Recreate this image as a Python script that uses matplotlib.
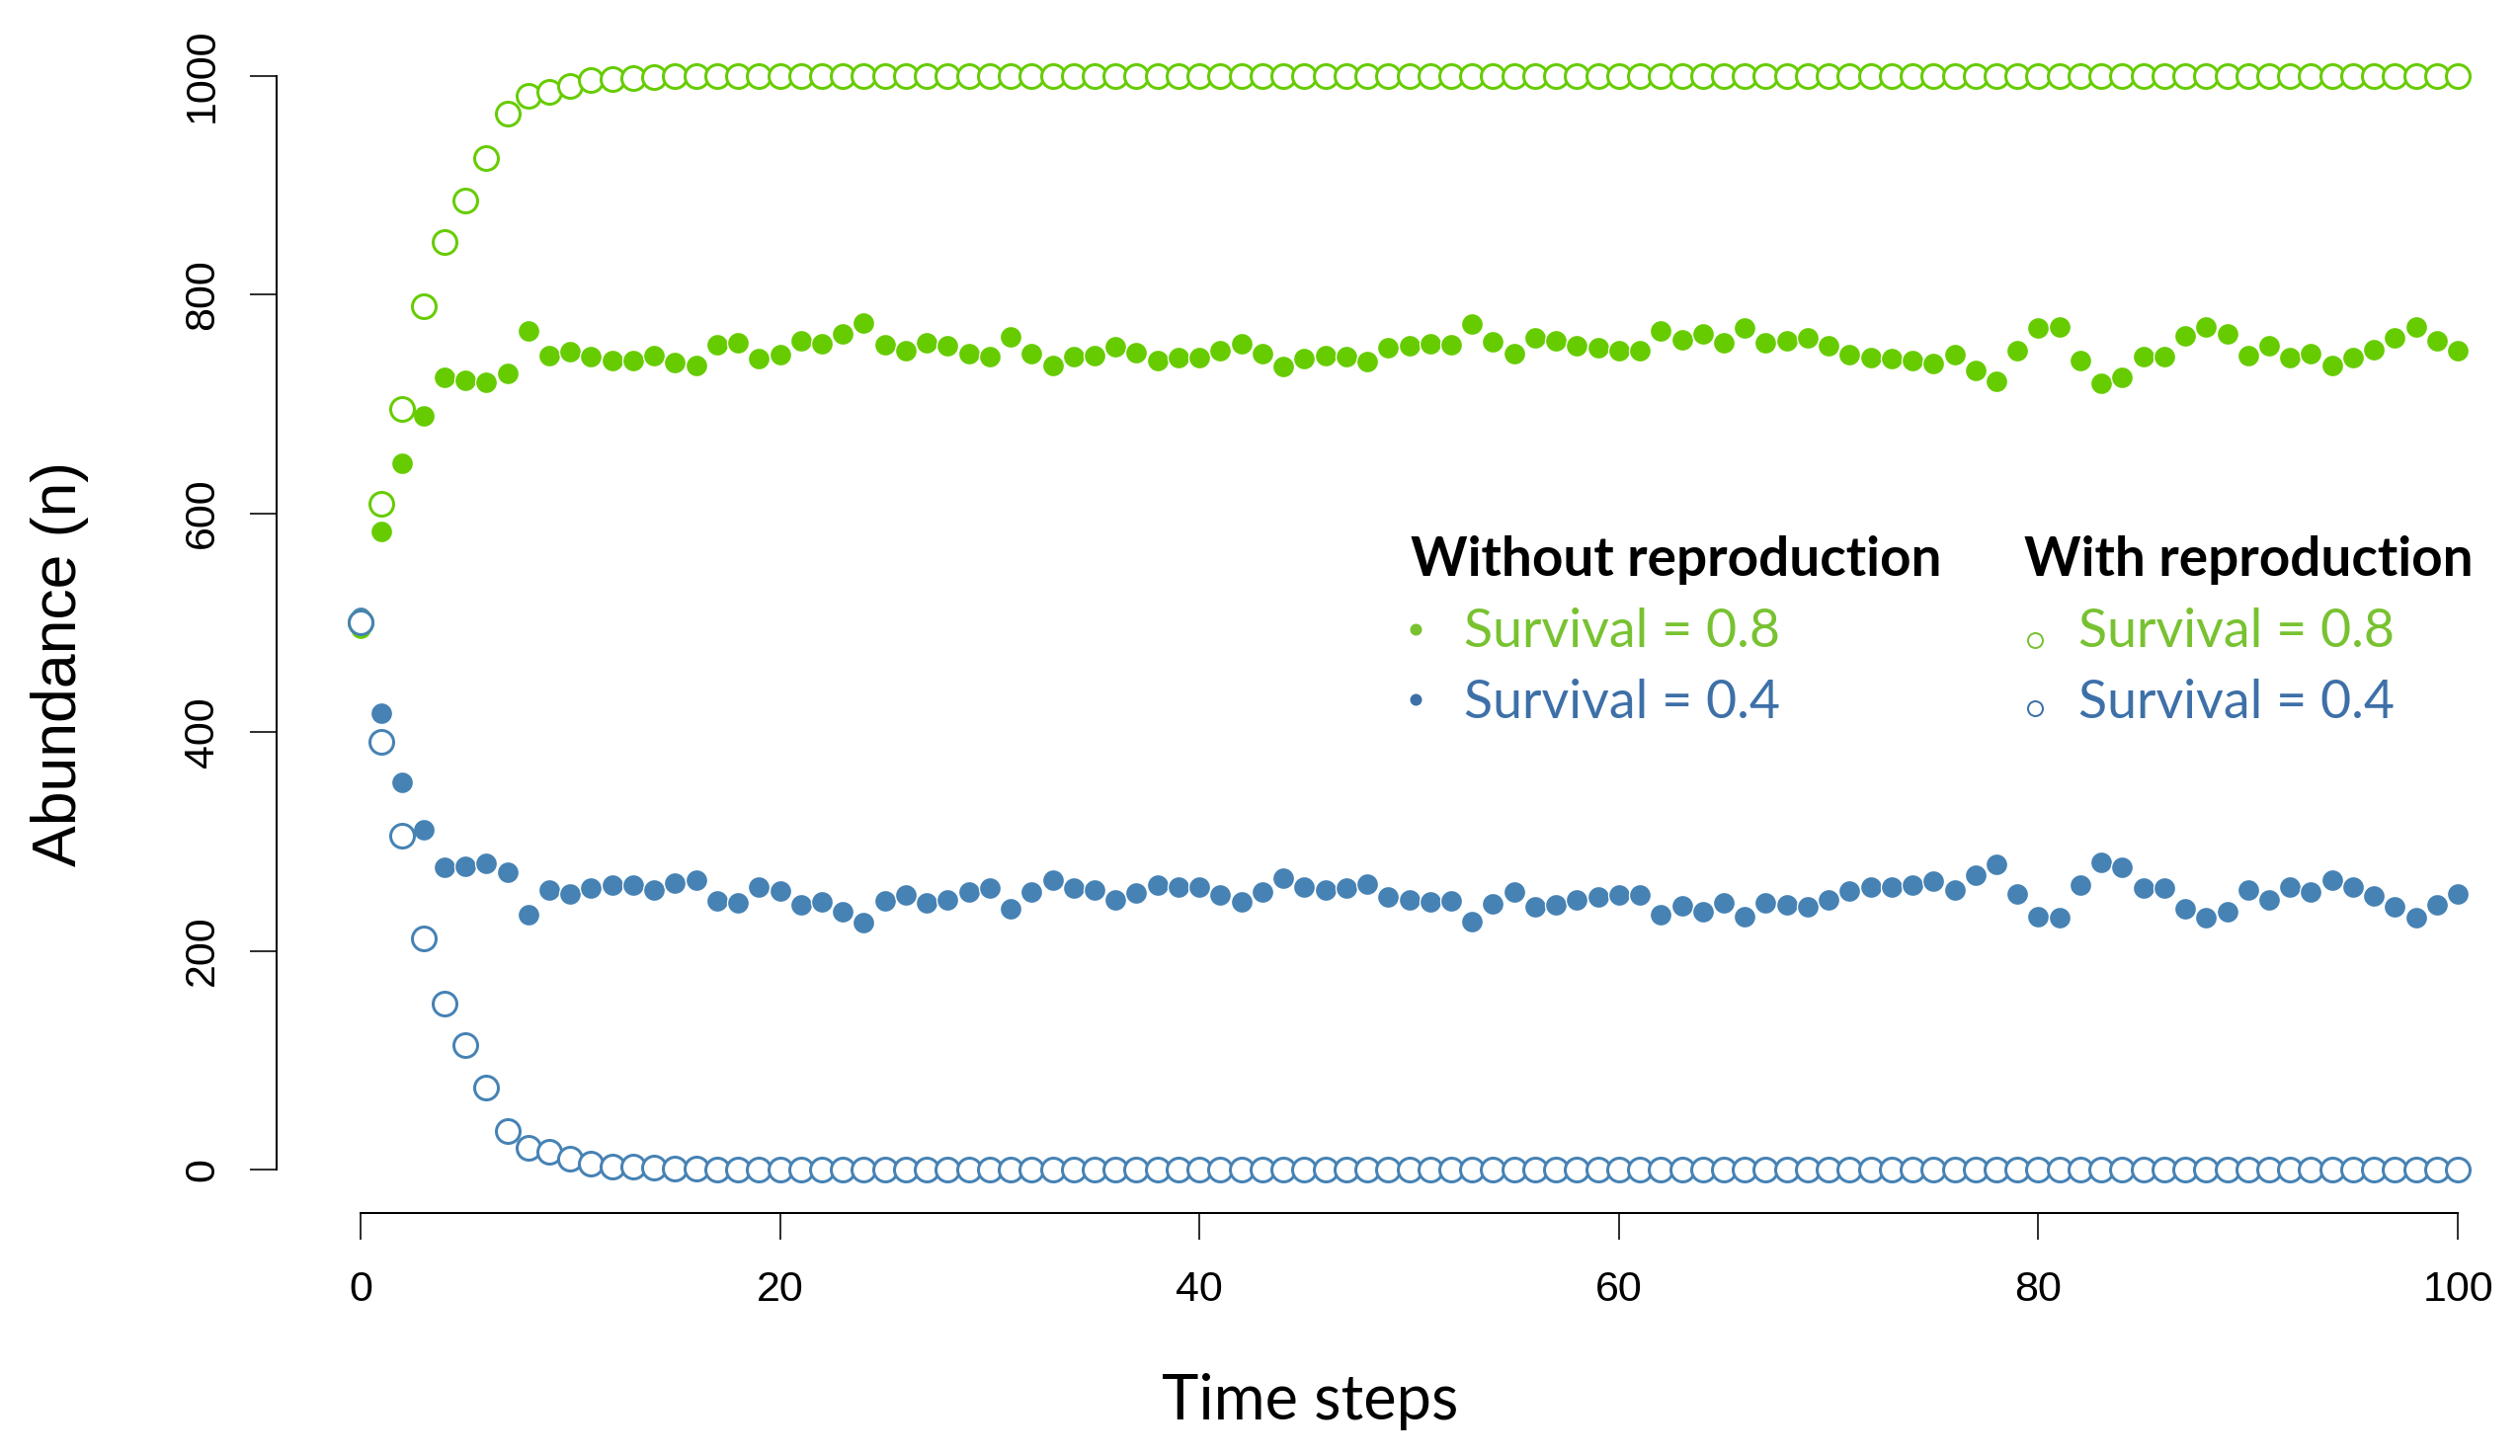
import matplotlib
matplotlib.use("Agg")
import matplotlib.pyplot as plt
import numpy as np

steps = list(range(0, 101))

# Without reproduction, survival = 0.8 (filled green)
no_repro_s08 = [495, 583, 646, 689, 724, 722, 720, 728, 767, 744,
                748, 743, 740, 740, 744, 738, 735, 754, 756, 741,
                745, 758, 755, 764, 774, 754, 749, 756, 753, 746,
                743, 761, 746, 735, 743, 744, 752, 747, 740, 742,
                742, 749, 755, 746, 734, 741, 744, 743, 739, 751,
                753, 755, 754, 773, 757, 746, 760, 758, 753, 751,
                749, 749, 767, 759, 764, 756, 769, 756, 758, 760,
                753, 745, 742, 741, 740, 737, 745, 731, 721, 749,
                769, 770, 740, 719, 724, 743, 743, 762, 770, 764,
                744, 753, 742, 746, 735, 742, 750, 760, 770, 758,
                749]

# Without reproduction, survival = 0.4 (filled blue)
no_repro_s04 = [505, 417, 354, 311, 276, 277, 280, 272, 233, 256,
                252, 257, 260, 260, 256, 262, 265, 246, 244, 258,
                255, 242, 245, 236, 226, 246, 251, 244, 247, 254,
                257, 238, 254, 265, 257, 256, 247, 253, 260, 258,
                258, 251, 245, 254, 266, 258, 256, 257, 261, 249,
                247, 245, 246, 227, 243, 254, 240, 242, 247, 249,
                251, 251, 233, 241, 236, 244, 231, 244, 242, 240,
                247, 255, 258, 258, 260, 264, 256, 269, 279, 252,
                231, 230, 260, 281, 276, 257, 257, 238, 230, 236,
                256, 247, 258, 254, 265, 258, 250, 240, 230, 242,
                252]

# With reproduction, survival = 0.8 (open green)
repro_s08 = [500, 609, 695, 789, 848, 886, 925, 965, 982, 985,
             991, 996, 997, 998, 999, 999.5] + [1000] * 85

# With reproduction, survival = 0.4 (open blue)
repro_s04 = [500, 391, 305, 211, 152, 114, 75, 35, 20, 16,
             10, 5, 3, 2.5, 1.5, 1, 0.6] + [0] * 84

x_ticks = [0, 20, 40, 60, 80, 100]
y_ticks = [0, 200, 400, 600, 800, 1000]

GREEN = "#66CC00"
BLUE = "#4682B4"
GREEN_TXT = "#78C231"
BLUE_TXT = "#3E70A8"

W, H = 2551, 1474
fig = plt.figure(figsize=(W / 100, H / 100), dpi=100)

def fx(px):
    return px / W

def fy(py):
    return 1 - py / H

ax = fig.add_axes([fx(280), fy(1228.3), fx(2573) - fx(280), fy(32.4) - fy(1228.3)])
ax.set_xlim(-4, 104)
ax.set_ylim(-40, 1040)

px2pt = 72 / 100

ax.plot(steps, no_repro_s08, 'o', color=GREEN, ms=22 * px2pt, mec='white', mew=1.3 * px2pt, zorder=3)
ax.plot(steps, no_repro_s04, 'o', color=BLUE, ms=22 * px2pt, mec='white', mew=1.3 * px2pt, zorder=3)
ax.plot(steps, repro_s08, 'o', mfc='white', mec=GREEN, ms=24 * px2pt, mew=3 * px2pt, zorder=4)
ax.plot(steps, repro_s04, 'o', mfc='white', mec=BLUE, ms=24 * px2pt, mew=3 * px2pt, zorder=4)

for s in ['top', 'right']:
    ax.spines[s].set_visible(False)
ax.spines['left'].set_bounds(0, 1000)
ax.spines['bottom'].set_bounds(0, 100)
ax.spines['left'].set_linewidth(2 * px2pt)
ax.spines['bottom'].set_linewidth(2 * px2pt)

tickfont = 'Liberation Sans'
ax.set_xticks(x_ticks)
ax.set_yticks(y_ticks)
ax.set_xticklabels([str(v) for v in x_ticks], fontsize=31, family=tickfont)
ax.set_yticklabels([str(v) for v in y_ticks], fontsize=31, family=tickfont,
                   rotation=90, va='center')
ax.tick_params(axis='both', direction='out', length=27 * px2pt, width=1.6 * px2pt, color='black')
ax.tick_params(axis='x', pad=22)
ax.tick_params(axis='y', pad=20)

fig.text(fx(61), fy(672), 'Abundance (n)', rotation=90, ha='center', va='center',
         fontsize=45, family='Liberation Sans')
fig.text(fx(1326), fy(1437), 'Time steps', ha='center', va='baseline',
         fontsize=45.5, family='Lato')

lfont = 'Lato'
bsize = 39.5
rsize = 38.7
fig.text(fx(1428), fy(583), 'Without reproduction', ha='left', va='baseline',
         fontsize=bsize, family=lfont, fontweight='bold')
fig.text(fx(2049), fy(583), 'With reproduction', ha='left', va='baseline',
         fontsize=bsize, family=lfont, fontweight='bold')
fig.text(fx(1482), fy(655), 'Survival = 0.8', ha='left', va='baseline',
         fontsize=rsize, family=lfont, color=GREEN_TXT)
fig.text(fx(1482), fy(727), 'Survival = 0.4', ha='left', va='baseline',
         fontsize=rsize, family=lfont, color=BLUE_TXT)
fig.text(fx(2104), fy(655), 'Survival = 0.8', ha='left', va='baseline',
         fontsize=rsize, family=lfont, color=GREEN_TXT)
fig.text(fx(2104), fy(727), 'Survival = 0.4', ha='left', va='baseline',
         fontsize=rsize, family=lfont, color=BLUE_TXT)

fig.lines.append(plt.Line2D([fx(1433)], [fy(637)], transform=fig.transFigure, marker='o',
                            ms=12 * px2pt, color=GREEN_TXT, mew=0))
fig.lines.append(plt.Line2D([fx(1433)], [fy(708)], transform=fig.transFigure, marker='o',
                            ms=12 * px2pt, color=BLUE_TXT, mew=0))
fig.lines.append(plt.Line2D([fx(2060)], [fy(648)], transform=fig.transFigure, marker='o',
                            ms=15 * px2pt, mfc='white', mec=GREEN_TXT, mew=2 * px2pt))
fig.lines.append(plt.Line2D([fx(2060)], [fy(717)], transform=fig.transFigure, marker='o',
                            ms=15 * px2pt, mfc='white', mec=BLUE_TXT, mew=2 * px2pt))

fig.savefig('out.png', dpi=100, facecolor='white')
